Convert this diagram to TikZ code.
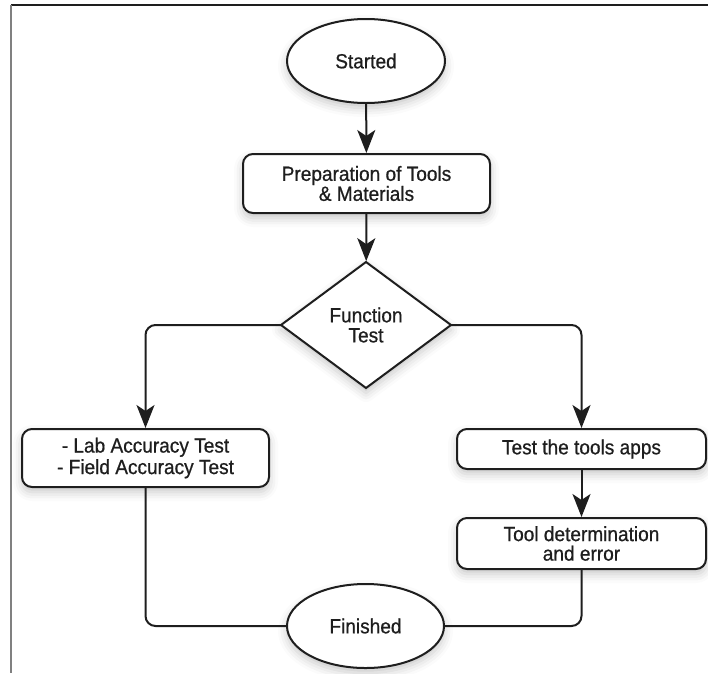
\documentclass[tikz,border=0pt]{standalone}
\usepackage{fontspec}
\setmainfont[FakeStretch=0.93,FakeBold=0.7]{Liberation Sans}
\usetikzlibrary{shapes.geometric,arrows.meta,shadows.blur}
\definecolor{ink}{HTML}{1E1E1E}
\tikzset{
  shade/.style={blur shadow={shadow xshift=0pt,shadow yshift=-5pt,shadow blur radius=9pt,shadow opacity=22}},
  base/.style={draw=ink,line width=2pt,fill=white,inner sep=0pt,outer sep=0pt,text=ink,align=center,shade,
    font=\fontsize{20.5}{20}\selectfont},
  terminal/.style={base,ellipse,minimum width=158pt,minimum height=84pt},
  procbox/.style={base,rectangle,rounded corners=10pt},
  decision/.style={base,diamond,aspect=1.35,minimum width=170pt,minimum height=126pt},
  flow/.style={draw=ink,line width=2pt,rounded corners=10pt},
  arrowflow/.style={flow,-{Stealth[length=23pt,width=18pt,inset=6pt]},shorten >=1pt},
  frameline/.style={line width=1.4pt}
}
\begin{document}
\begin{tikzpicture}[x=1pt,y=-1pt]
\useasboundingbox (0,0) rectangle (708,673);
\coordinate (tl) at (11,5);
\coordinate (tr) at (708,5);
\coordinate (bl) at (11,673);
\draw[frameline,draw=ink] (tl) -- (tr);
\draw[frameline,draw=gray] (tl) -- (bl);

\node[terminal] (start) at (366,61) {Started};
\node[procbox,minimum width=247pt,minimum height=59pt] (prep) at (366.5,183.5) {Preparation of Tools\\\& Materials};
\node[decision] (func) at (366,325) {Function\\Test};
\node[procbox,minimum width=247pt,minimum height=58pt,font=\fontsize{20.5}{21.5}\selectfont] (lab) at (145.5,458) {- Lab Accuracy Test\\- Field Accuracy Test};
\node[procbox,minimum width=249pt,minimum height=40pt] (apps) at (581.5,449) {Test the tools apps};
\node[procbox,minimum width=249pt,minimum height=51pt,font=\fontsize{20.5}{19.5}\selectfont] (det) at (581.5,543.5) {Tool determination\\and error};
\node[terminal,minimum width=157pt] (fin) at (365.5,626) {Finished};

\draw[arrowflow] (start) -- (prep);
\draw[arrowflow] (prep) -- (func);
\draw[arrowflow] (func.west) -| (lab.north);
\draw[arrowflow] (func.east) -| (apps.north);
\draw[arrowflow] (apps) -- (det);
\draw[flow] (lab.south) |- (fin.west);
\draw[flow] (det.south) |- (fin.east);
\end{tikzpicture}
\end{document}
